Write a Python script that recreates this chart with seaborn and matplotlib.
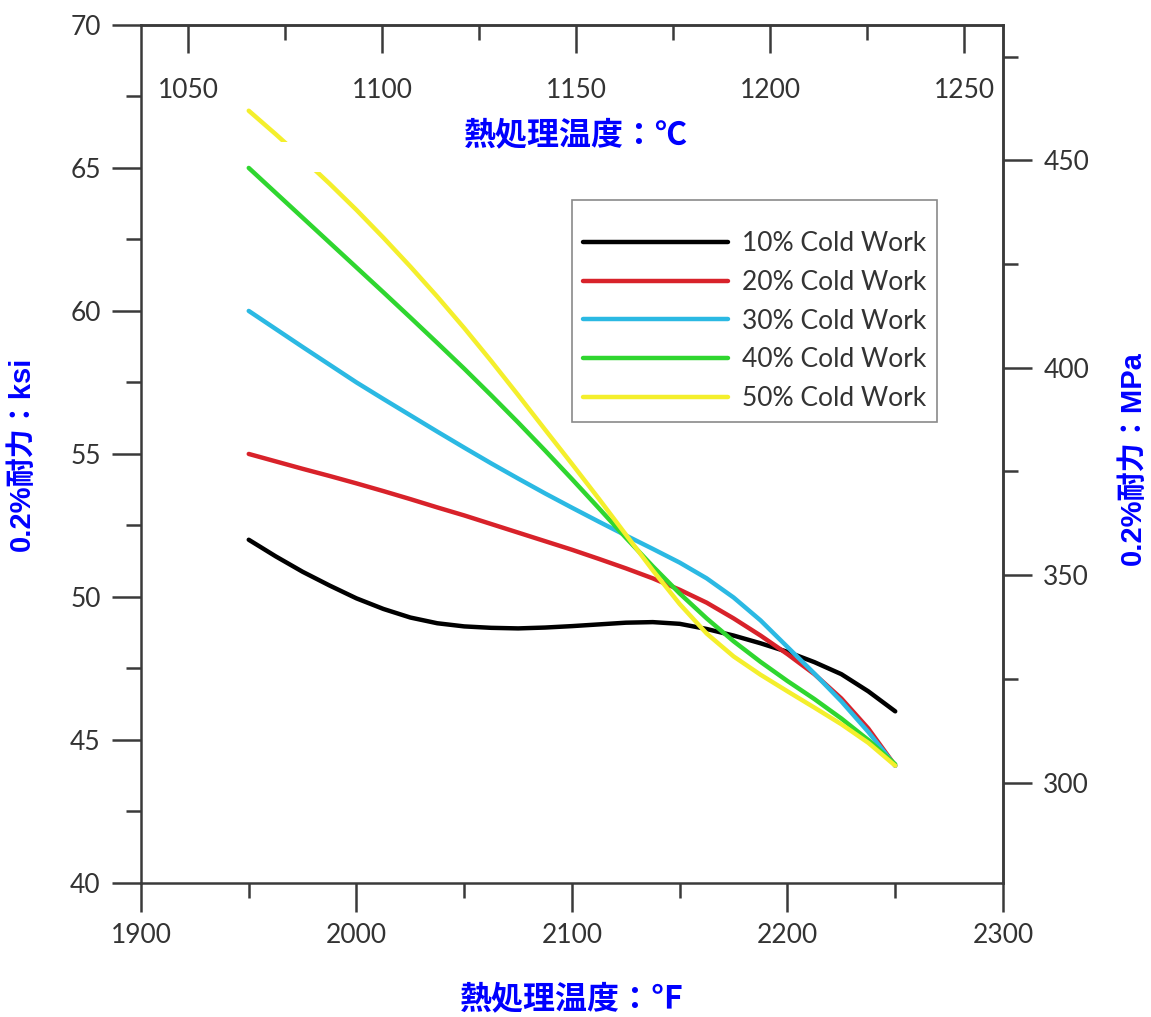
import numpy as np
import pandas as pd
import matplotlib
matplotlib.use("Agg")
import matplotlib.pyplot as plt
from matplotlib.ticker import AutoMinorLocator, FixedLocator
from matplotlib.patches import Rectangle
import seaborn as sns

# ---------------- data (ksi vs degF) ----------------
temps_F = [1950, 1962.5, 1975, 1987.5, 2000, 2012.5, 2025, 2037.5, 2050, 2062.5,
           2075, 2087.5, 2100, 2112.5, 2125, 2137.5, 2150, 2162.5, 2175, 2187.5,
           2200, 2212.5, 2225, 2237.5, 2250]
cw10 = [52.0, 51.42, 50.88, 50.4, 49.95, 49.58, 49.28, 49.08, 48.97, 48.92,
        48.9, 48.93, 48.98, 49.04, 49.1, 49.12, 49.06, 48.88, 48.65, 48.38,
        48.08, 47.72, 47.3, 46.7, 46.0]
cw20 = [55.0, 54.74, 54.48, 54.23, 53.97, 53.7, 53.42, 53.13, 52.85, 52.55,
        52.25, 51.95, 51.65, 51.33, 51.0, 50.65, 50.25, 49.8, 49.25, 48.65,
        48.0, 47.3, 46.45, 45.4, 44.1]
cw30 = [60.0, 59.37, 58.74, 58.12, 57.5, 56.92, 56.35, 55.78, 55.22, 54.67,
        54.14, 53.62, 53.12, 52.63, 52.15, 51.68, 51.2, 50.65, 49.98, 49.18,
        48.25, 47.32, 46.35, 45.28, 44.1]
cw40 = [65.0, 64.13, 63.26, 62.39, 61.52, 60.65, 59.77, 58.88, 57.98, 57.05,
        56.1, 55.12, 54.12, 53.1, 52.07, 51.07, 50.12, 49.25, 48.45, 47.73,
        47.06, 46.43, 45.75, 45.0, 44.15]
cw50 = [67.0, 66.18, 65.33, 64.45, 63.53, 62.56, 61.55, 60.5, 59.4, 58.25,
        57.06, 55.85, 54.65, 53.43, 52.18, 50.93, 49.75, 48.72, 47.92, 47.28,
        46.7, 46.13, 45.55, 44.9, 44.1]
series_names = ["10% Cold Work", "20% Cold Work", "30% Cold Work", "40% Cold Work", "50% Cold Work"]
series_colors = ["#000000", "#d8222a", "#2bb9e3", "#2fd62f", "#f4ef2c"]

xticks_F = [1900, 2000, 2100, 2200, 2300]
yticks_ksi = [40, 45, 50, 55, 60, 65, 70]
xticks_C = [1050, 1100, 1150, 1200, 1250]
yticks_MPa = [300, 350, 400, 450]

KSI_TO_MPA = 6.894757

rows = []
for name, vals in zip(series_names, [cw10, cw20, cw30, cw40, cw50]):
    for t, v in zip(temps_F, vals):
        rows.append({"temp": t, "ksi": v, "series": name})
df = pd.DataFrame(rows)

# ---------------- style ----------------
sns.set_style("ticks")
plt.rcParams["font.family"] = ["Lato", "DejaVu Sans"]
spine_color = "#3a3a3a"

fig = plt.figure(figsize=(11.51, 10.17), dpi=100)
ax = fig.add_axes([0.1225, 0.1318, 0.7489, 0.8437])

sns.lineplot(data=df, x="temp", y="ksi", hue="series", palette=series_colors,
             hue_order=series_names, linewidth=3.2, ax=ax, legend=True,
             solid_capstyle="round", solid_joinstyle="round")

ax.set_xlim(1900, 2300)
ax.set_ylim(40, 70)
ax.xaxis.set_major_locator(FixedLocator(xticks_F))
ax.xaxis.set_minor_locator(AutoMinorLocator(2))
ax.yaxis.set_major_locator(FixedLocator(yticks_ksi))
ax.yaxis.set_minor_locator(AutoMinorLocator(2))

ax.tick_params(axis="both", which="major", direction="out", length=21, width=1.8,
               color=spine_color, labelsize=19, labelcolor="#333333", pad=8)
ax.tick_params(axis="both", which="minor", direction="out", length=11, width=1.8,
               color=spine_color)
ax.tick_params(top=False, right=False, which="both")

for s in ax.spines.values():
    s.set_linewidth(1.8)
    s.set_color(spine_color)
    s.set_visible(True)

# top axis in degC
secx = ax.secondary_xaxis("top", functions=(lambda f: (f - 32) * 5 / 9,
                                            lambda c: c * 9 / 5 + 32))
secx.xaxis.set_major_locator(FixedLocator(xticks_C))
secx.xaxis.set_minor_locator(AutoMinorLocator(2))
secx.tick_params(axis="x", which="major", direction="in", length=20, width=1.8,
                 color=spine_color, labelsize=19, labelcolor="#333333", pad=-56)
secx.tick_params(axis="x", which="minor", direction="in", length=11, width=1.8,
                 color=spine_color)
secx.spines["top"].set_linewidth(1.8)
secx.spines["top"].set_color(spine_color)

# right axis in MPa
secy = ax.secondary_yaxis("right", functions=(lambda k: k * KSI_TO_MPA,
                                              lambda m: m / KSI_TO_MPA))
secy.yaxis.set_major_locator(FixedLocator(yticks_MPa))
secy.yaxis.set_minor_locator(AutoMinorLocator(2))
secy.tick_params(axis="y", which="major", direction="out", length=21, width=1.8,
                 color=spine_color, labelsize=19, labelcolor="#333333", pad=8)
secy.tick_params(axis="y", which="minor", direction="out", length=11, width=1.8,
                 color=spine_color)
secy.spines["right"].set_linewidth(1.8)
secy.spines["right"].set_color(spine_color)

# labels
cjk = ["Noto Sans CJK JP", "DejaVu Sans"]
lat_cjk = ["Liberation Sans", "Noto Sans CJK JP", "DejaVu Sans"]
ax.set_xlabel("熱処理温度：℉", color="#0000ff", fontsize=23, fontweight="bold", family=cjk)
ax.xaxis.set_label_coords(0.5, -0.136, transform=ax.transAxes)
ax.xaxis.label.set_verticalalignment("center")

secx.set_xlabel("熱処理温度：℃", color="#0000ff", fontsize=23, fontweight="bold", family=cjk)
secx.xaxis.set_label_coords(0.505, 0.872, transform=ax.transAxes)
secx.xaxis.label.set_verticalalignment("center")

ax.set_ylabel("0.2%耐力：ksi", color="#0000ff", fontsize=21, fontweight="bold", family=lat_cjk)
ax.yaxis.set_label_coords(-0.138, 0.5, transform=ax.transAxes)
ax.yaxis.label.set_verticalalignment("center")

secy.set_ylabel("0.2%耐力：MPa", color="#0000ff", fontsize=21, fontweight="bold", family=lat_cjk)
secy.yaxis.set_label_coords(1.151, 0.495, transform=ax.transAxes)
secy.yaxis.label.set_verticalalignment("center")

# white patch that interrupts the top of the yellow curve in the original
ax.add_patch(Rectangle((0.159, 0.829), 0.19, 0.034, transform=ax.transAxes,
                       facecolor="white", edgecolor="none", zorder=3))

# legend
handles, labels = ax.get_legend_handles_labels()
leg = ax.legend(handles, labels, loc="upper left", bbox_to_anchor=(0.5, 0.796),
                borderaxespad=0, frameon=True, fancybox=False, edgecolor="#8a8a8a",
                framealpha=1, handlelength=5.5, handletextpad=0.55, labelspacing=0.52,
                borderpad=0.4, title=" ", title_fontsize=5,
                prop={"family": ["Lato", "DejaVu Sans"], "size": 19})
leg.get_frame().set_linewidth(1.2)
for t in leg.get_texts():
    t.set_color("#333333")
for l in leg.get_lines():
    l.set_linewidth(3.2)
leg.set_zorder(5)

fig.savefig("out.png", dpi=100, facecolor="white")
